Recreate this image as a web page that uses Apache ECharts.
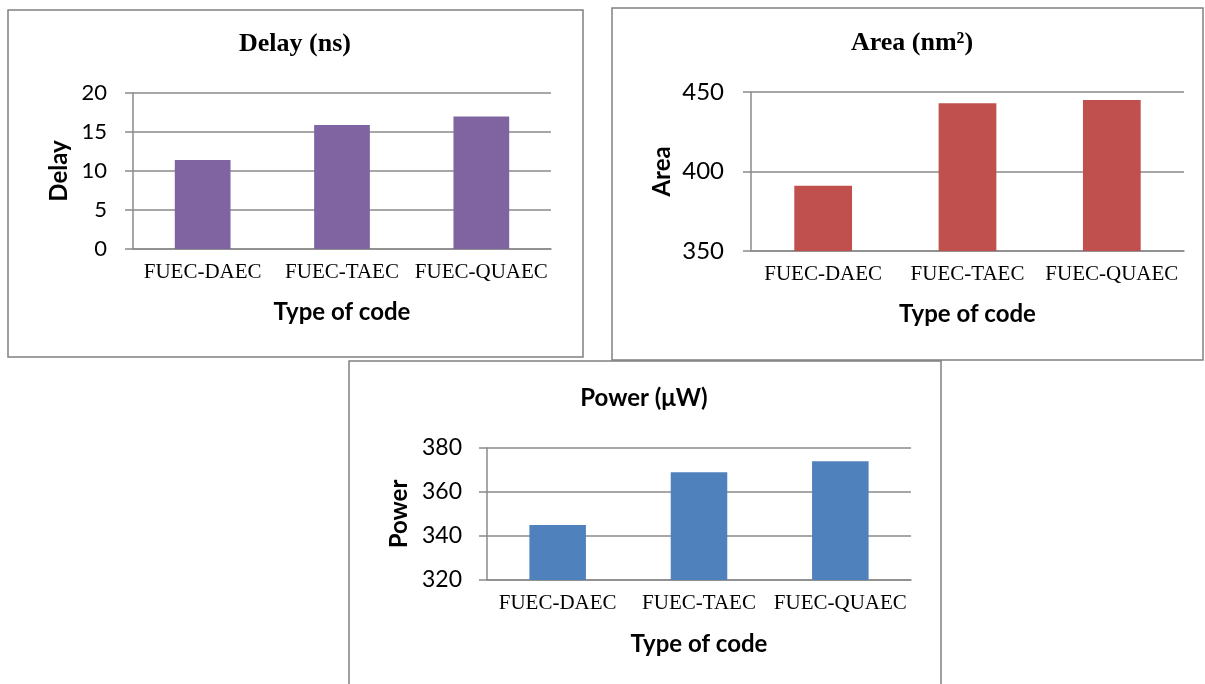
<!DOCTYPE html>
<html>
<head>
<meta charset="utf-8">
<script src="https://cdn.jsdelivr.net/npm/echarts@6/dist/echarts.min.js"></script>
<style>
	html,body{margin:0;padding:0;background:#fff;}
	#main{width:1205px;height:684px;}
</style>
</head>
<body>
<div id="main"></div>
<script>
// 数据
var categories = ['FUEC-DAEC', 'FUEC-TAEC', 'FUEC-QUAEC'];
var delayValues = [11.4, 15.9, 17.0];
var areaValues = [391, 443, 445];
var powerValues = [345, 369, 374];
var delayTicks = [0, 20, 5];   // min, max, interval
var areaTicks = [350, 450, 50];
var powerTicks = [320, 380, 20];

var gridColor = '#8a8a8a';
var sans = 'Lato';
var serif = 'Liberation Serif';

function getXAxis(idx, gap) {
	return {
		type: 'category',
		gridIndex: idx,
		data: categories,
		name: 'Type of code',
		nameLocation: 'middle',
		nameGap: gap,
		nameTextStyle: {fontFamily: sans, fontWeight: 'bold', fontSize: 24, color: '#000'},
		axisLine: {lineStyle: {color: gridColor, width: 1.5}},
		axisTick: {show: false},
		axisLabel: {interval: 0, margin: 13, fontFamily: serif, fontSize: 21, color: '#000'}
	};
}
function getYAxis(idx, name, ticks, gap, labelSize, labelMargin) {
	return {
		type: 'value',
		gridIndex: idx,
		min: ticks[0],
		max: ticks[1],
		interval: ticks[2],
		name: name,
		nameLocation: 'middle',
		nameGap: gap,
		nameRotate: 90,
		nameTextStyle: {fontFamily: sans, fontWeight: 'bold', fontSize: 24, color: '#000'},
		axisLine: {show: true, lineStyle: {color: gridColor, width: 1.5}},
		axisTick: {show: true, length: 8, lineStyle: {color: gridColor, width: 1.5}},
		splitLine: {lineStyle: {color: gridColor, width: 1.5}},
		axisLabel: {margin: labelMargin, fontFamily: sans, fontSize: labelSize, color: '#000'}
	};
}
function getBar(idx, values, color) {
	return {
		type: 'bar',
		xAxisIndex: idx,
		yAxisIndex: idx,
		data: values,
		barWidth: '40%',
		itemStyle: {color: color},
		silent: true
	};
}
// 外框
function box(x, y, w, h) {
	return {
		type: 'rect',
		shape: {x: x, y: y, width: w, height: h},
		style: {fill: 'none', stroke: '#808080', lineWidth: 1.5},
		silent: true
	};
}

var chart = echarts.init(document.getElementById('main'));
var option = {
	animation: false,
	backgroundColor: '#fff',
	title: [
		{text: 'Delay (ns)', left: 295, top: 31, textAlign: 'center', padding: 0,
			textStyle: {fontFamily: serif, fontWeight: 'bold', fontSize: 26, color: '#000'}},
		{text: 'Area (nm²)', left: 912, top: 30, textAlign: 'center', padding: 0,
			textStyle: {fontFamily: serif, fontWeight: 'bold', fontSize: 26, color: '#000'}},
		{text: 'Power (μW)', left: 644, top: 386, textAlign: 'center', padding: 0,
			textStyle: {fontFamily: sans, fontWeight: 'bold', fontSize: 24, color: '#000'}}
	],
	graphic: [
		box(8, 10, 575, 347),
		box(612, 8, 591, 352),
		box(349, 361, 592, 330)
	],
	grid: [
		{left: 133, top: 93, width: 418, height: 156},
		{left: 751, top: 92, width: 433, height: 159},
		{left: 487, top: 448, width: 424, height: 132}
	],
	xAxis: [
		getXAxis(0, 51),
		getXAxis(1, 51),
		getXAxis(2, 52)
	],
	yAxis: [
		getYAxis(0, 'Delay', delayTicks, 62, 22, 26),
		getYAxis(1, 'Area', areaTicks, 77, 24, 27),
		getYAxis(2, 'Power', powerTicks, 76, 23, 25)
	],
	series: [
		getBar(0, delayValues, '#8064A2'),
		getBar(1, areaValues, '#C0504D'),
		getBar(2, powerValues, '#4F81BD')
	]
};
chart.setOption(option);
</script>
</body>
</html>
